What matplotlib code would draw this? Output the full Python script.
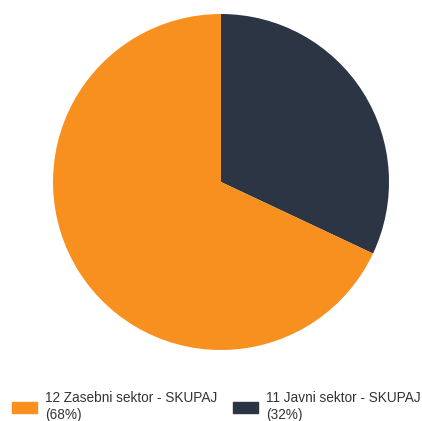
import matplotlib
matplotlib.use("Agg")
import matplotlib.pyplot as plt
from matplotlib.patches import Rectangle

# data
labels = ["12 Zasebni sektor - SKUPAJ", "11 Javni sektor - SKUPAJ"]
shares = [68, 32]
colors = ["#F7901E", "#2B3544"]

plt.rcParams["font.family"] = ["Liberation Sans", "DejaVu Sans"]

fig = plt.figure(figsize=(4.22, 4.21), dpi=100)
W, H = 422, 421

# pie: centre (221,182), radius 168 px
ax = fig.add_axes([(221 - 168) / W, 1 - (182 + 168) / H, 336 / W, 336 / H])
# dark slice starts at 12 o'clock going clockwise
ax.pie(shares[::-1], colors=colors[::-1], startangle=90, counterclock=False,
       wedgeprops=dict(linewidth=0))
ax.set_xlim(-1, 1)
ax.set_ylim(-1, 1)
ax.set_aspect("equal")
ax.axis("off")

# legend at the bottom, drawn by hand
sw_x = [12, 233]
for i, (lab, s, c) in enumerate(zip(labels, shares, colors)):
    x0 = sw_x[i]
    fig.patches.append(Rectangle((x0 / W, 1 - 413 / H), 25 / W, 11 / H,
                                 transform=fig.transFigure, color=c, figure=fig))
    fig.text((x0 + 33) / W, 1 - 391 / H, f"{lab}\n({s}%)", fontsize=9.8,
             color="#333333", va="top", ha="left", linespacing=1.3)

fig.savefig("out.png", dpi=100)
